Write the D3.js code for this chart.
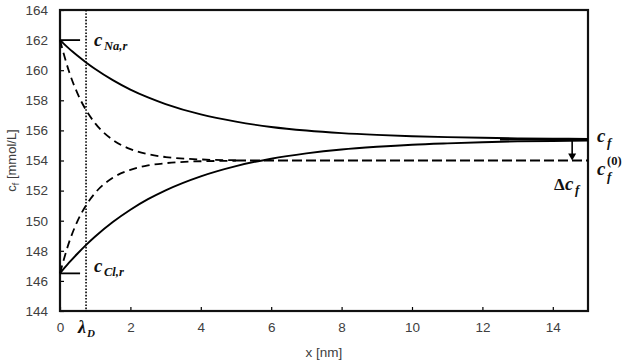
<!DOCTYPE html>
<html>
<head>
<meta charset="utf-8">
<script src="https://cdn.jsdelivr.net/npm/d3@7"></script>
<style>
  body { margin: 0; background: #fff; }
  svg { display: block; }
</style>
</head>
<body>
<div id="chart"></div>
<script>
const xs = [0, 0.25, 0.5, 0.75, 1, 1.5, 2, 2.5, 3, 4, 5, 6, 7, 8, 9, 10, 11, 12, 13, 14, 15];

// solid curves (c_f profiles)
const naSolid = [162.0, 161.45, 160.96, 160.5, 160.08, 159.34, 158.71, 158.19, 157.75, 157.06, 156.58, 156.23, 155.99, 155.82, 155.7, 155.61, 155.55, 155.51, 155.47, 155.45, 155.44];
const clSolid = [146.5, 147.19, 147.82, 148.41, 148.95, 149.91, 150.73, 151.43, 152.02, 152.95, 153.63, 154.12, 154.47, 154.73, 154.91, 155.05, 155.14, 155.21, 155.27, 155.3, 155.33];

// dashed curves (c_f^(0) profiles), read until they merge into the 154 level
const naDashed = [162.0, 159.96, 158.44, 157.31, 156.47, 155.37, 154.76, 154.42, 154.23, 154.07, 154.02];
const clDashed = [146.5, 148.51, 149.99, 151.06, 151.85, 152.85, 153.38, 153.67, 153.82, 153.95, 153.98];

// reference levels
const cNaR = 162;
const cClR = 146.5;
const cF = 155.4;
const cF0 = 154;
const lambdaD = 0.74;
const arrowX = 14.55;

const xTicks = [0, 2, 4, 6, 8, 10, 12, 14];
const yTicks = [144, 146, 148, 150, 152, 154, 156, 158, 160, 162, 164];

const W = 628, H = 363;
const margin = {top: 10, right: 40, bottom: 52, left: 60};

const svg = d3.select("#chart").append("svg")
    .attr("width", W)
    .attr("height", H);

const x = d3.scaleLinear().domain([0, 15]).range([margin.left, W - margin.right]);
const y = d3.scaleLinear().domain([144, 164]).range([H - margin.bottom, margin.top]);

// axes, ticks pointing inside
const yAxis = svg.append("g")
    .attr("transform", "translate(" + margin.left + ",0)")
    .call(d3.axisLeft(y).tickValues(yTicks).tickSize(-4).tickPadding(12));
const xAxis = svg.append("g")
    .attr("transform", "translate(0," + (H - margin.bottom) + ")")
    .call(d3.axisBottom(x).tickValues(xTicks).tickSize(-4).tickPadding(11));

[xAxis, yAxis].forEach(function(g) {
    g.select(".domain").remove();
    g.selectAll("line").attr("stroke", "#000").attr("stroke-width", 1.2);
    g.selectAll("text")
        .attr("font-family", "Liberation Sans, Arial, sans-serif")
        .attr("font-size", 13.5)
        .attr("fill", "#404040");
});

// frame
svg.append("rect")
    .attr("x", x(0)).attr("y", y(164))
    .attr("width", x(15) - x(0)).attr("height", y(144) - y(164))
    .attr("fill", "none").attr("stroke", "#111").attr("stroke-width", 2.2);

// Debye length marker
svg.append("line")
    .attr("x1", x(lambdaD)).attr("x2", x(lambdaD))
    .attr("y1", y(164)).attr("y2", y(144))
    .attr("stroke", "#000").attr("stroke-width", 1.6)
    .attr("stroke-dasharray", "1.6,1.6");

const line = d3.line()
    .x(function(d) { return x(d[0]); })
    .y(function(d) { return y(d[1]); })
    .curve(d3.curveMonotoneX);

function series(vals) { return vals.map(function(v, i) { return [xs[i], v]; }); }

[naDashed, clDashed].forEach(function(s) {
    svg.append("path")
        .datum(series(s))
        .attr("fill", "none")
        .attr("stroke", "#000")
        .attr("stroke-width", 1.8)
        .attr("stroke-dasharray", "8,5")
        .attr("d", line);
});

// merged dashed level c_f^(0)
svg.append("line")
    .attr("x1", x(xs[naDashed.length - 1])).attr("x2", x(15))
    .attr("y1", y(cF0)).attr("y2", y(cF0))
    .attr("stroke", "#000").attr("stroke-width", 1.8)
    .attr("stroke-dasharray", "10,4");

[naSolid, clSolid].forEach(function(s) {
    svg.append("path")
        .datum(series(s))
        .attr("fill", "none")
        .attr("stroke", "#000")
        .attr("stroke-width", 1.9)
        .attr("d", line);
});

// reference level marks at the wall
[cNaR, cClR].forEach(function(v) {
    svg.append("line")
        .attr("x1", x(0)).attr("x2", x(0.57))
        .attr("y1", y(v)).attr("y2", y(v))
        .attr("stroke", "#000").attr("stroke-width", 1.8);
});

// c_f level near the right edge
svg.append("line")
    .attr("x1", x(12.5)).attr("x2", x(15))
    .attr("y1", y(cF)).attr("y2", y(cF))
    .attr("stroke", "#000").attr("stroke-width", 1.9);

// arrow for delta c_f
svg.append("line")
    .attr("x1", x(arrowX)).attr("x2", x(arrowX))
    .attr("y1", y(cF)).attr("y2", y(cF0) - 6)
    .attr("stroke", "#000").attr("stroke-width", 1.6);
svg.append("path")
    .attr("d", "M" + (x(arrowX) - 4) + "," + (y(cF0) - 7) +
               "L" + (x(arrowX) + 4) + "," + (y(cF0) - 7) +
               "L" + x(arrowX) + "," + y(cF0) + "Z")
    .attr("fill", "#000");

// math labels
const mathFont = "Liberation Serif, DejaVu Serif, serif";
function mathText(px, py, txt, size, italic) {
    return svg.append("text")
        .attr("x", px).attr("y", py)
        .attr("font-family", mathFont)
        .attr("font-style", italic === false ? "normal" : "italic")
        .attr("font-weight", "bold")
        .attr("font-size", size)
        .attr("fill", "#111")
        .text(txt);
}

mathText(94, y(cNaR) + 6, "c", 19);
mathText(104, y(cNaR) + 10, "Na,r", 12.5);
mathText(94, y(cClR) - 1, "c", 19);
mathText(104, y(cClR) + 3, "Cl,r", 12.5);

mathText(597, y(cF) + 3, "c", 19);
mathText(607, y(cF) + 8, "f", 13);

mathText(597, y(cF0) + 14, "c", 19);
mathText(607, y(cF0) + 4, "(0)", 12.5, false);
mathText(607, y(cF0) + 20, "f", 13);

mathText(554, y(cF0) + 29, "Δ", 17, false);
mathText(565, y(cF0) + 29, "c", 19);
mathText(575, y(cF0) + 33, "f", 13);

// lambda_D tick label
mathText(x(lambdaD) - 8, H - margin.bottom + 22, "λ", 18);
mathText(x(lambdaD) + 1, H - margin.bottom + 26, "D", 11);

// axis titles
svg.append("text")
    .attr("x", x(7.5)).attr("y", H - 6)
    .attr("text-anchor", "middle")
    .attr("font-family", "Liberation Sans, Arial, sans-serif")
    .attr("font-size", 13.5)
    .attr("fill", "#404040")
    .text("x [nm]");

svg.append("text")
    .attr("transform", "translate(16," + y(154) + ") rotate(-90)")
    .attr("text-anchor", "middle")
    .attr("font-family", "Liberation Sans, Arial, sans-serif")
    .attr("font-size", 13)
    .attr("fill", "#404040")
    .call(function(t) {
        t.append("tspan").text("c");
        t.append("tspan").attr("font-size", 9).attr("dy", 3).text("f");
        t.append("tspan").attr("dy", -3).text(" [mmol/L]");
    });
</script>
</body>
</html>
